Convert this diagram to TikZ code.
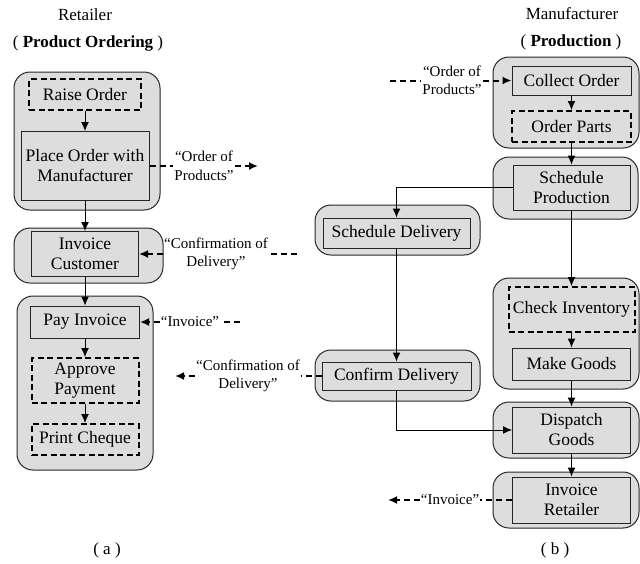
\documentclass[tikz,border=0pt]{standalone}
\usepackage{fontspec}
\setmainfont{Liberation Serif}
\usetikzlibrary{arrows.meta}
\definecolor{boxgray}{RGB}{221,221,221}
\newcommand{\taskfont}{\fontsize{17.5}{20}\selectfont}
\newcommand{\msgfont}{\fontsize{15}{18.5}\selectfont}
\newcommand{\headfont}{\fontsize{17}{20}\selectfont}
\tikzset{
  grp/.style={draw=black!85, line width=1pt, fill=boxgray, rounded corners=16pt, inner sep=0pt},
  task/.style={draw=black!85, line width=1pt, fill=boxgray, font=\taskfont, align=center, inner sep=0pt},
  opt/.style={task, draw=black, line width=2pt, dash pattern=on 6pt off 3.5pt},
  lbl/.style={font=\msgfont, align=center, inner sep=1pt},
  head/.style={font=\headfont, inner sep=0pt},
  seq/.style={line width=1pt, -{Latex[length=9pt,width=8pt]}},
  msg/.style={line width=2pt, dash pattern=on 6pt off 4pt},
  msgtip/.style={msg, -{Latex[length=9pt,width=8pt]}}
}
\begin{document}
\begin{tikzpicture}[x=1pt,y=-1pt]
\useasboundingbox (0,0) rectangle (640,563);

% headings
\node[head] (rtitle) at (85,15) {Retailer};
\node[head] (rproc) at (88,43) {( \textbf{Product Ordering} )};
\node[head] (mtitle) at (572,14) {Manufacturer};
\node[head] (mproc) at (571,42) {( \textbf{Production} )};

% retailer: groups
\node[grp, minimum width=146pt, minimum height=138pt] (g1) at (87,141) {};
\node[grp, minimum width=149pt, minimum height=55pt] (g2) at (88.5,255.5) {};
\node[grp, minimum width=136pt, minimum height=174pt] (g3) at (85,383) {};

% retailer: tasks
\node[opt, minimum width=112pt, minimum height=31pt] (raise) at (85,94.5) {Raise Order};
\node[task, minimum width=128pt, minimum height=69pt] (place) at (85,166) {Place Order with\\Manufacturer};
\node[task, minimum width=107pt, minimum height=45pt] (invc) at (85,254) {Invoice\\Customer};
\node[task, minimum width=109pt, minimum height=32pt] (pay) at (85,322) {Pay Invoice};
\node[opt, minimum width=107pt, minimum height=45pt] (approve) at (85,380.5) {Approve\\Payment};
\node[opt, minimum width=107pt, minimum height=31pt] (cheque) at (85,439.5) {Print Cheque};

% manufacturer: groups
\node[grp, minimum width=146pt, minimum height=91pt] (r1) at (566,102.5) {};
\node[grp, minimum width=145pt, minimum height=62pt] (r2) at (565.5,188) {};
\node[grp, minimum width=165pt, minimum height=50pt] (rsd) at (397.5,230) {};
\node[grp, minimum width=146pt, minimum height=111pt] (r3) at (566,333.5) {};
\node[grp, minimum width=165pt, minimum height=51pt] (rcd) at (397.5,375.5) {};
\node[grp, minimum width=146pt, minimum height=56pt] (r4) at (566,430) {};
\node[grp, minimum width=146pt, minimum height=56pt] (r5) at (566,500) {};

% manufacturer: tasks
\node[task, minimum width=119pt, minimum height=29pt] (collect) at (571.5,80.5) {Collect Order};
\node[opt, minimum width=119pt, minimum height=31pt] (parts) at (571.5,126.5) {Order Parts};
\node[task, minimum width=117pt, minimum height=45pt] (sprod) at (571.5,187.5) {Schedule\\Production};
\node[task, minimum width=147pt, minimum height=30pt] (sdel) at (396.5,233) {Schedule Delivery};
\node[opt, minimum width=126pt, minimum height=45pt] (check) at (571.5,309.5) {Check Inventory};
\node[task, minimum width=118pt, minimum height=32pt] (make) at (571.5,364) {Make Goods};
\node[task, minimum width=149pt, minimum height=28pt] (cdel) at (396.5,376) {Confirm Delivery};
\node[task, minimum width=118pt, minimum height=46pt] (dispatch) at (571.5,430) {Dispatch\\Goods};
\node[task, minimum width=118pt, minimum height=46pt] (invr) at (571.5,500) {Invoice\\Retailer};

% sequence flow
\draw[seq] (raise) -- (place);
\draw[seq] (place) -- (invc);
\draw[seq] (invc) -- (pay);
\draw[seq] (pay) -- (approve);
\draw[seq] (approve) -- (cheque);
\draw[seq] (collect) -- (parts);
\draw[seq] (parts) -- (sprod);
\draw[seq] (sprod.west) -| (sdel.north);
\draw[seq] (sprod) -- (check);
\draw[seq] (check) -- (make);
\draw[seq] (make) -- (dispatch);
\draw[seq] (sdel) -- (cdel);
\draw[seq] (cdel.south) |- (dispatch.west);
\draw[seq] (dispatch) -- (invr);

% message flow: retailer side
\coordinate (m1) at (258,166);
\node[lbl] (l1) at (204,166) {“Order of\\Products”};
\draw[msg] (place.east) -- (l1.west);
\draw[msgtip] (l1.east) -- (m1);

\coordinate (m2) at (297,254);
\node[lbl] (l2) at (216,254) {“Confirmation of\\Delivery”};
\draw[msg] (m2) -- (l2.east);
\draw[msgtip] (l2.west) -- (invc.east);

\coordinate (m3) at (240,322);
\node[lbl] (l3) at (190,322) {“Invoice”};
\draw[msg] (m3) -- (l3.east);
\draw[msgtip] (l3.west) -- (pay.east);

% message flow: manufacturer side
\coordinate (m4) at (175,376);
\node[lbl] (l4) at (248,376) {“Confirmation of\\Delivery”};
\draw[msg] (cdel.west) -- (l4.east);
\draw[msgtip] (l4.west) -- (m4);

\coordinate (m5) at (388,500);
\node[lbl] (l5) at (450,500) {“Invoice”};
\draw[msg] (invr.west) -- (l5.east);
\draw[msgtip] (l5.west) -- (m5);

\coordinate (m6) at (390,80.5);
\node[lbl] (l6) at (452,80.5) {“Order of\\Products”};
\draw[msg] (m6) -- (l6.west);
\draw[msgtip] (l6.east) -- (collect.west);

% captions
\node[head] (capa) at (107,550) {( a )};
\node[head] (capb) at (555,550) {( b )};
\end{tikzpicture}
\end{document}
